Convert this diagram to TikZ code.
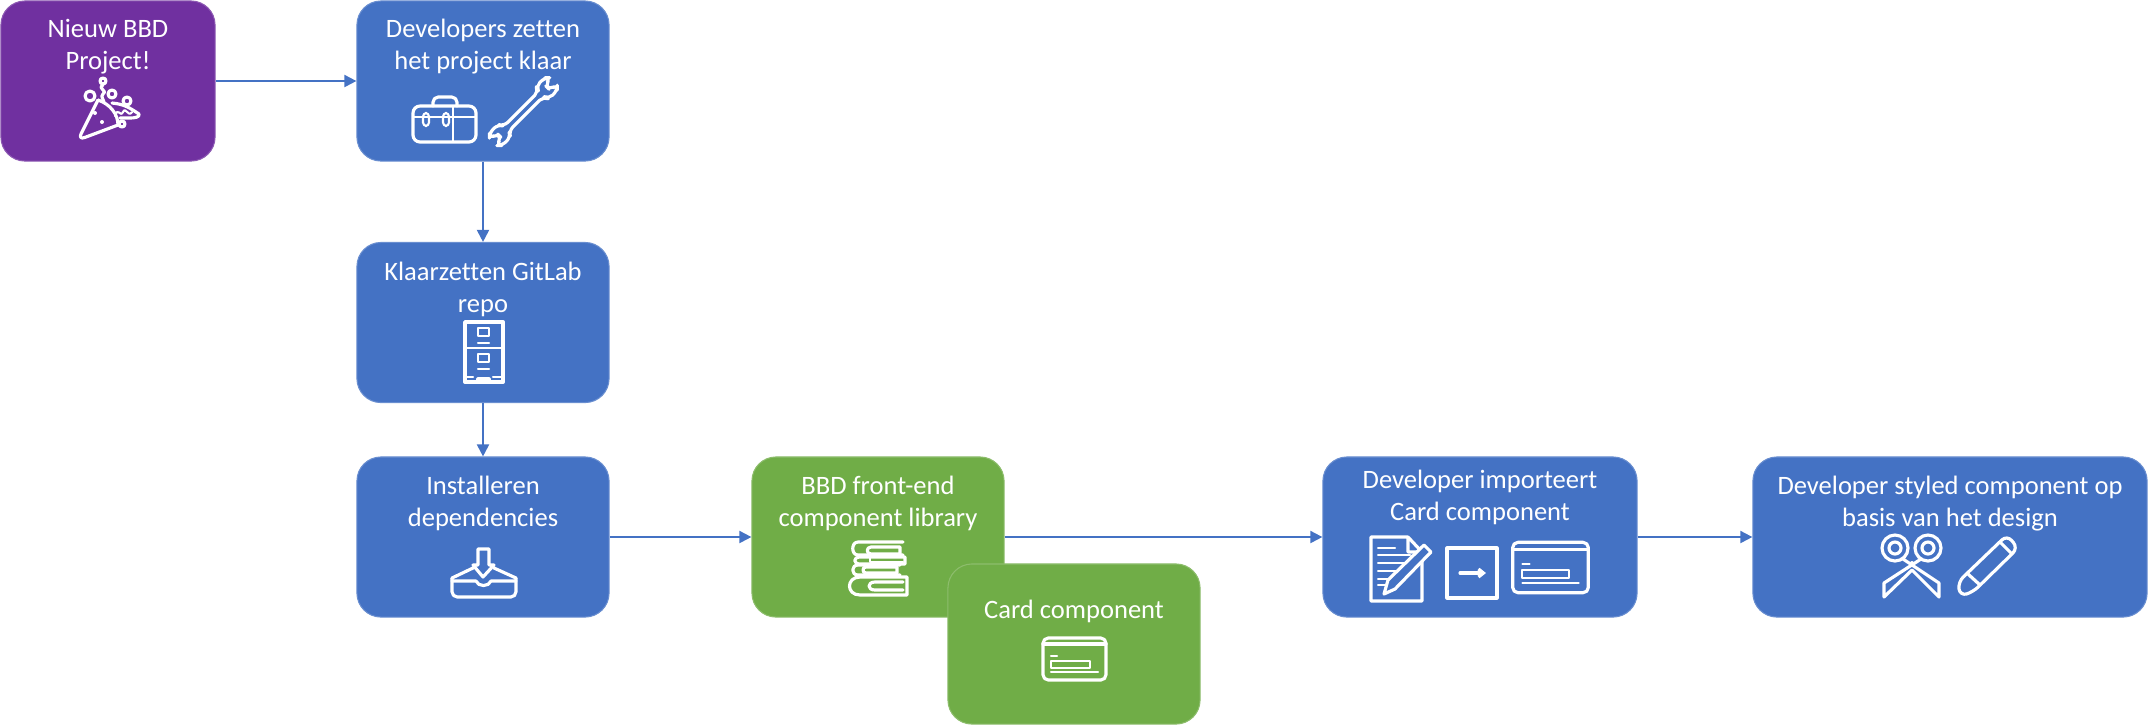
\documentclass[tikz,border=0pt]{standalone}
\usepackage{fontspec}
\setmainfont{Carlito}[Ligatures=NoCommon]
\usetikzlibrary{arrows.meta}

\definecolor{bbdblue}{HTML}{4472C4}
\definecolor{bbdpurple}{HTML}{7030A0}
\definecolor{bbdgreen}{HTML}{70AD47}

\tikzset{
	box/.style={fill=#1, draw=#1!80!white, line width=0.3pt, rounded corners=0.24cm, minimum height=1.6cm},
	boxtext/.style={text=white, align=center, font=\fontsize{7.55}{9.1}\selectfont, inner sep=0pt},
	iconline/.style={draw=white, line width=0.9pt, line join=round, line cap=round},
	flow/.style={->, draw=bbdblue, line width=0.55pt},
	cardicon/.pic={
		\draw[iconline, rounded corners=1.5pt] (-31.5,-21) rectangle (31.5,21);
		\draw[iconline] (-31.5,-15) -- (31.5,-15);
		\draw[iconline, line width=0.6pt] (-23.5,-3) -- (-17.5,-3);
		\draw[iconline, line width=0.6pt] (-23.5,2) rectangle (15.5,9);
		\draw[iconline, line width=0.6pt] (-23.5,13) -- (23.5,13);
	}
}

\begin{document}
\begin{tikzpicture}[x=0.01cm, y=-0.01cm, >={Triangle[length=0.12cm, width=0.12cm]}]
	\useasboundingbox (0,0) rectangle (2148,726);

	\node[box=bbdpurple, minimum width=2.14cm] (nieuw) at (108,81) {};
	\node[box=bbdblue, minimum width=2.52cm] (setup) at (483,81) {};
	\node[box=bbdblue, minimum width=2.52cm] (repo) at (483,322.5) {};
	\node[box=bbdblue, minimum width=2.52cm] (install) at (483,537) {};
	\node[box=bbdgreen, minimum width=2.52cm] (library) at (878,537) {};
	\node[box=bbdblue, minimum width=3.14cm] (import) at (1480,537) {};
	\node[box=bbdblue, minimum width=3.94cm] (styled) at (1950,537) {};

	\draw[flow] (nieuw) -- (setup);
	\draw[flow] (setup) -- (repo);
	\draw[flow] (repo) -- (install);
	\draw[flow] (install) -- (library);
	\draw[flow] (library) -- (import);
	\draw[flow] (import) -- (styled);

	\node[box=bbdgreen, minimum width=2.52cm] (card) at (1074,644) {};

	\node[boxtext] (nieuwtext) at (108,47) {Nieuw BBD\\Project!};
	\node[boxtext] (setuptext) at (483,47) {Developers zetten\\het project klaar};
	\node[boxtext] (repotext) at (483,289.5) {Klaarzetten GitLab\\repo};
	\node[boxtext] (installtext) at (483,503.5) {Installeren\\dependencies};
	\node[boxtext] (librarytext) at (878,503.5) {BBD front-end\\component library};
	\node[boxtext] (cardtext) at (1074,611) {Card component};
	\node[boxtext] (importtext) at (1480,497) {Developer importeert\\Card component};
	\node[boxtext] (styledtext) at (1950,503.5) {Developer styled component op\\basis van het design};

	% feest
	\draw[iconline, rounded corners=2pt] (98,100) -- (78,140) -- (118,125);
	\draw[iconline] (98,100) .. controls (110,104) and (118,114) .. (118,125);
	\draw[iconline] (90,96) circle (5);
	\draw[iconline] (112,94) circle (4);
	\draw[iconline] (127,101) circle (4);
	\draw[iconline] (122,124) circle (3);
	\draw[iconline] (103,81) circle (3);
	\draw[iconline] (103,85) .. controls (97,89) and (108,90) .. (103,94) .. controls (100,97) and (104,99) .. (104,102);
	\draw[iconline] (112,103) .. controls (124,104) and (130,108) .. (139,114) .. controls (140,117) and (135,118) .. (130,118) -- (120,118);
	\draw[iconline, line width=0.6pt] (115,116) .. controls (118,106) and (120,118) .. (123,112) .. controls (126,106) and (128,118) .. (132,112);
	\fill[white] (95,113) circle (2);
	\fill[white] (102,122) circle (2);

	% gereedschap
	\draw[iconline, rounded corners=2pt] (413,106) rectangle (476,142);
	\draw[iconline, line width=0.6pt] (413,117) -- (476,117);
	\draw[iconline, line width=0.6pt] (453,106) -- (453,142);
	\draw[iconline, rounded corners=1.5pt] (433,106) -- (433,97) -- (457,97) -- (457,106);
	\draw[iconline, line width=0.6pt, rounded corners=1pt] (423,113) rectangle (429,126);
	\draw[iconline, line width=0.6pt, rounded corners=1pt] (443,113) rectangle (449,126);
	\begin{scope}[shift={(500,135)}, rotate=45]
		\draw[iconline, rounded corners=1.5pt] (9,-3.5) -- (58,-3.5) -- (60,-9) -- (72,-9) -- (76,-5) -- (67,-3) -- (67,3) -- (76,5) -- (72,9) -- (60,9) -- (58,3.5) -- (9,3.5) -- (6,9) -- (-6,9) -- (-10,5) -- (-1,3) -- (-1,-3) -- (-10,-5) -- (-6,-9) -- (6,-9) -- cycle;
	\end{scope}

	% archiefkast
	\draw[iconline, line width=1.1pt] (465,322) rectangle (503,382);
	\draw[iconline, line width=0.6pt] (465,348) -- (503,348);
	\draw[iconline, line width=0.6pt] (478,328) rectangle (489,336);
	\draw[iconline, line width=0.6pt] (478,343) -- (489,343);
	\draw[iconline, line width=0.6pt] (478,354) rectangle (489,362);
	\draw[iconline, line width=0.6pt] (478,369) -- (489,369);
	\draw[iconline, line width=0.6pt] (465,377) -- (473,377);
	\draw[iconline, line width=0.6pt] (493,377) -- (503,377);
	\draw[iconline] (478,381) -- (478,379) -- (489,379) -- (489,381);

	% inbox
	\draw[iconline, rounded corners=1.5pt] (452,578) -- (452,597) -- (516,597) -- (516,578);
	\draw[iconline] (452,578) -- (473,568);
	\draw[iconline] (516,578) -- (494,568);
	\draw[iconline] (473,565) -- (483,577) -- (494,565) -- (489,565) -- (489,549) -- (478,549) -- (478,565) -- cycle;
	\draw[iconline] (452,581) -- (476,581) .. controls (478,587) and (489,587) .. (491,581) -- (516,581);

	% boeken
	\draw[iconline] (903,542) -- (858,542) .. controls (851,542) and (851,555) .. (858,555) -- (903,555);
	\draw[iconline] (900,547) -- (871,547) .. controls (866,547) and (866,554) .. (871,554) -- (900,554) -- cycle;
	\draw[iconline] (905,557) -- (860,557) .. controls (853,557) and (853,564) .. (860,564) -- (905,564) -- (905,557);
	\draw[iconline, line width=0.6pt] (870,558) -- (870,562) -- (903,562);
	\draw[iconline] (900,565) -- (858,565) .. controls (851,565) and (851,575) .. (858,575) -- (900,575);
	\draw[iconline] (897,567) -- (866,567) .. controls (862,567) and (862,573) .. (866,573) -- (897,573) -- cycle;
	\draw[iconline] (907,577) -- (860,577) .. controls (846,577) and (846,595) .. (860,595) -- (907,595) -- cycle;
	\draw[iconline] (903,582) -- (875,582) .. controls (867,582) and (867,590) .. (875,590) -- (903,590);
	\pic at (1074.5,659) {cardicon};

	% document, pijl en kaart
	\draw[iconline] (1408,537) -- (1371,537) -- (1371,601) -- (1422,601) -- (1422,552) -- (1408,537) -- (1408,552) -- (1422,552);
	\draw[iconline, line width=0.6pt] (1378,548) -- (1395,548);
	\draw[iconline, line width=0.6pt] (1378,555) -- (1410,555);
	\draw[iconline, line width=0.6pt] (1378,563) -- (1410,563);
	\draw[iconline, line width=0.6pt] (1378,571) -- (1405,571);
	\draw[iconline, line width=0.6pt] (1378,579) -- (1395,579);
	\draw[iconline, line width=0.6pt] (1378,585) -- (1385,585);
	\draw[iconline, fill=bbdblue] (1384,594) -- (1388,580) -- (1424,545) -- (1431,552) -- (1395,589) -- cycle;
	\draw[iconline] (1447,548) rectangle (1497,598);
	\draw[iconline, -{Straight Barb[length=0.05cm, width=0.08cm]}] (1460,573) -- (1486,573);
	\pic[scale=1.2] at (1550.5,567.5) {cardicon};

	% schaar en kwast
	\draw[iconline] (1895,548) circle (13);
	\draw[iconline] (1895,548) circle (6);
	\draw[iconline] (1928,548) circle (13);
	\draw[iconline] (1928,548) circle (6);
	\draw[iconline] (1903,559) -- (1939,583) -- (1939,597) -- (1912,570) -- (1884,597) -- (1884,583) -- (1921,559);
	\fill[white] (1912,563) circle (2);
	\draw[iconline, rounded corners=2pt] (1960,596) -- (1958,582) -- (2007,535) -- (2018,548) -- (1973,592) -- cycle;
	\draw[iconline] (2000,542) -- (2012,554);
	\draw[iconline] (1968,574) -- (1980,585);
\end{tikzpicture}
\end{document}
